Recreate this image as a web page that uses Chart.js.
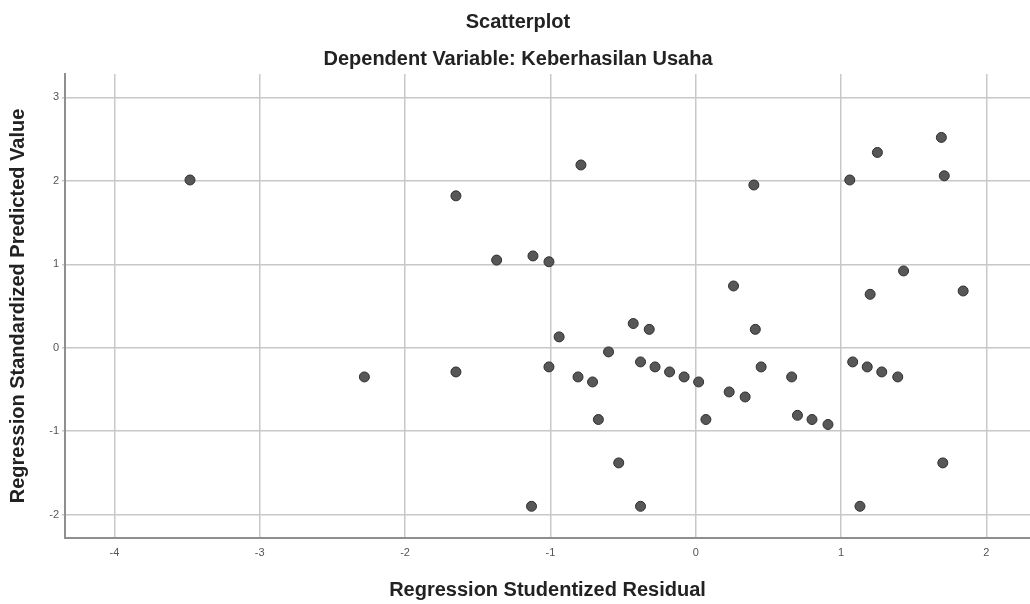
<!DOCTYPE html>
<html>
<head>
<meta charset="utf-8">
<script src="https://cdn.jsdelivr.net/npm/chart.js@4"></script>
<style>
  html, body { margin: 0; padding: 0; background: #ffffff; }
  #wrap { width: 1030px; height: 604px; position: relative; }
</style>
</head>
<body>
<div id="wrap"><canvas id="c" width="1030" height="604"></canvas></div>
<script>
// Regression Studentized Residual (x) and Regression Standardized Predicted Value (y)
const residuals = [
  -3.48, -2.28, -1.65, -1.65, -1.37, -1.12, -1.01, -0.79, -0.94, -1.01,
  -0.81, -0.71, -0.60, -0.67, -0.43, -0.32, -0.38, -0.28, -0.18, -0.08,
   0.02,  0.07, -0.53, -1.13, -0.38,  0.41,  0.45,  0.23,  0.34,  0.66,
   0.70,  0.80,  0.91,  1.08,  1.18,  1.28,  1.39,  1.70,  1.13,  0.40,
   0.26,  1.06,  1.25,  1.69,  1.71,  1.43,  1.20,  1.84
];
const predicted = [
   2.01, -0.35,  1.82, -0.29,  1.05,  1.10,  1.03,  2.19,  0.13, -0.23,
  -0.35, -0.41, -0.05, -0.86,  0.29,  0.22, -0.17, -0.23, -0.29, -0.35,
  -0.41, -0.86, -1.38, -1.90, -1.90,  0.22, -0.23, -0.53, -0.59, -0.35,
  -0.81, -0.86, -0.92, -0.17, -0.23, -0.29, -0.35, -1.38, -1.90,  1.95,
   0.74,  2.01,  2.34,  2.52,  2.06,  0.92,  0.64,  0.68
];
const xTicks = [-4, -3, -2, -1, 0, 1, 2];
const yTicks = [-2, -1, 0, 1, 2, 3];
const titleText = 'Scatterplot';
const subtitleText = 'Dependent Variable: Keberhasilan Usaha';
const xTitle = 'Regression Studentized Residual';
const yTitle = 'Regression Standardized Predicted Value';

const points = residuals.map((x, i) => ({ x: x, y: predicted[i] }));
const FONT = "'Liberation Sans', Arial, sans-serif";

new Chart(document.getElementById('c'), {
  type: 'scatter',
  data: {
    datasets: [{
      data: points,
      pointRadius: 5,
      pointHoverRadius: 5,
      backgroundColor: '#575757',
      borderColor: '#2f2f2f',
      borderWidth: 1
    }]
  },
  options: {
    responsive: false,
    animation: false,
    devicePixelRatio: 1,
    layout: { autoPadding: false, padding: { left: 6, right: 0, top: 0, bottom: 0 } },
    plugins: {
      legend: { display: false },
      tooltip: { enabled: false },
      title: {
        display: true,
        text: titleText,
        color: '#222',
        font: { family: FONT, size: 20, weight: 'bold', lineHeight: 1.2 },
        padding: { top: 10, bottom: 6 }
      },
      subtitle: {
        display: true,
        text: subtitleText,
        color: '#222',
        font: { family: FONT, size: 20, weight: 'bold', lineHeight: 1.2 },
        padding: { top: 7, bottom: 3 }
      }
    },
    scales: {
      x: {
        type: 'linear',
        min: -4.34,
        max: 2.3,
        afterBuildTicks: (s) => { s.ticks = xTicks.map(v => ({ value: v })); },
        afterFit: (s) => { s.height = 66; },
        grid: { color: '#c8c8c8', lineWidth: 1.5, drawTicks: true, tickLength: 8, tickColor: 'rgba(0,0,0,0)' },
        border: { color: '#8f8f8f', width: 2 },
        ticks: {
          color: '#555',
          padding: 0,
          font: { family: FONT, size: 11 },
          callback: (v) => String(v)
        },
        title: {
          display: true,
          text: xTitle,
          color: '#222',
          font: { family: FONT, size: 20, weight: 'bold', lineHeight: 1.2 },
          padding: { top: 0, bottom: 2 }
        }
      },
      y: {
        type: 'linear',
        min: -2.28,
        max: 3.28,
        afterBuildTicks: (s) => { s.ticks = yTicks.map(v => ({ value: v })); },
        afterFit: (s) => { s.width = 59; },
        grid: { color: '#c8c8c8', lineWidth: 1.5, drawTicks: true, tickLength: 3 },
        border: { color: '#8f8f8f', width: 2 },
        ticks: {
          color: '#555',
          padding: 3,
          font: { family: FONT, size: 11 },
          callback: (v) => String(v)
        },
        title: {
          display: true,
          text: yTitle,
          color: '#222',
          font: { family: FONT, size: 20, weight: 'bold', lineHeight: 1.0 },
          padding: { top: 2, bottom: 0 }
        }
      }
    }
  }
});
</script>
</body>
</html>
